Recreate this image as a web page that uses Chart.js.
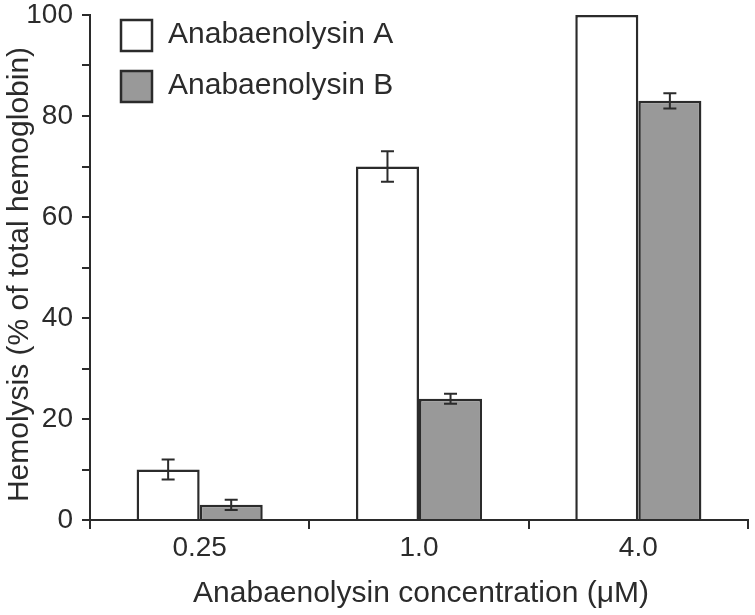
<!DOCTYPE html>
<html>
<head>
<meta charset="utf-8">
<title>Hemolysis by anabaenolysins</title>
<script src="https://cdn.jsdelivr.net/npm/chart.js@4.4.1/dist/chart.umd.min.js"></script>
<style>
  html, body { margin: 0; padding: 0; background: #fff; }
  #chart { display: block; }
</style>
</head>
<body>
<canvas id="chart" width="755" height="615"></canvas>
<script>
var concentrations = ['0.25', '1.0', '4.0'];
var seriesNames = ['Anabaenolysin A', 'Anabaenolysin B'];
var valuesA = [10, 70, 100];
var valuesB = [3, 24, 83];
var errorsA = [2, 3, 0];
var errorsB = [1, 1, 1.5];
var yLabelled = [0, 20, 40, 60, 80, 100];
var xTitle = 'Anabaenolysin concentration (\u03bcM)';
var yTitle = 'Hemolysis (% of total hemoglobin)';

var ink = '#2b2b2b';
var fontFamily = '"Liberation Sans", Arial, Helvetica, sans-serif';

// error bars, drawn on top of the bars through the y scale
var errorBars = {
  id: 'errorBars',
  afterDatasetsDraw: function(chart) {
    var ctx = chart.ctx;
    var y = chart.scales.y;
    ctx.save();
    ctx.strokeStyle = ink;
    ctx.lineWidth = 2;
    chart.data.datasets.forEach(function(ds, i) {
      var meta = chart.getDatasetMeta(i);
      meta.data.forEach(function(bar, j) {
        var err = ds.errors[j];
        if (!err) return;
        var top = y.getPixelForValue(ds.data[j] + err);
        var bottom = y.getPixelForValue(ds.data[j] - err);
        ctx.beginPath();
        ctx.moveTo(bar.x, top);
        ctx.lineTo(bar.x, bottom);
        ctx.moveTo(bar.x - 6.5, top);
        ctx.lineTo(bar.x + 6.5, top);
        ctx.moveTo(bar.x - 6.5, bottom);
        ctx.lineTo(bar.x + 6.5, bottom);
        ctx.stroke();
      });
    });
    ctx.restore();
  }
};

// legend sits inside the plot, top left
var boxLegend = {
  id: 'boxLegend',
  afterDraw: function(chart) {
    var ctx = chart.ctx;
    var area = chart.chartArea;
    var x = area.left + 31;
    var y = area.top + 5;
    ctx.save();
    ctx.font = '30px ' + fontFamily;
    ctx.textBaseline = 'alphabetic';
    chart.data.datasets.forEach(function(ds, i) {
      var top = y + i * 51;
      ctx.fillStyle = ds.backgroundColor;
      ctx.fillRect(x, top, 31, 31);
      ctx.lineWidth = 2.5;
      ctx.strokeStyle = ds.borderColor;
      ctx.strokeRect(x, top, 31, 31);
      ctx.fillStyle = ink;
      ctx.fillText(ds.label, x + 47, top + 23);
    });
    ctx.restore();
  }
};

// axis titles, placed a little off-centre like the original figure
var axisTitles = {
  id: 'axisTitles',
  afterDraw: function(chart) {
    var ctx = chart.ctx;
    var area = chart.chartArea;
    ctx.save();
    ctx.font = '30px ' + fontFamily;
    ctx.fillStyle = ink;
    ctx.textAlign = 'center';
    ctx.textBaseline = 'alphabetic';
    ctx.fillText(xTitle, (area.left + area.right) / 2 + 2, chart.height - 13);
    ctx.translate(28, (area.top + area.bottom) / 2 + 7);
    ctx.rotate(-Math.PI / 2);
    ctx.fillText(yTitle, 0, 0);
    ctx.restore();
  }
};

document.addEventListener('DOMContentLoaded', function() {
  var ctx = document.getElementById('chart').getContext('2d');

  new Chart(ctx, {
    type: 'bar',
    data: {
      labels: concentrations,
      datasets: [{
        label: seriesNames[0],
        data: valuesA,
        errors: errorsA,
        backgroundColor: '#ffffff',
        borderColor: ink,
        borderWidth: 2.5,
        borderSkipped: 'bottom'
      }, {
        label: seriesNames[1],
        data: valuesB,
        errors: errorsB,
        backgroundColor: '#999999',
        borderColor: ink,
        borderWidth: 2.5,
        borderSkipped: 'bottom'
      }]
    },
    options: {
      responsive: false,
      animation: false,
      layout: {
        padding: { top: 0, right: 7, bottom: 0, left: 0 }
      },
      datasets: {
        bar: { categoryPercentage: 0.575, barPercentage: 1 }
      },
      plugins: {
        legend: { display: false },
        tooltip: { enabled: false }
      },
      scales: {
        x: {
          grid: {
            offset: true,
            drawOnChartArea: false,
            tickLength: 9,
            color: ink,
            lineWidth: 2
          },
          border: { display: true, color: ink, width: 2 },
          ticks: {
            color: ink,
            padding: 5,
            font: { family: fontFamily, size: 28, lineHeight: 1 }
          },
          afterFit: function(scale) { scale.height = 95; }
        },
        y: {
          min: 0,
          max: 100,
          ticks: {
            stepSize: 10,
            color: ink,
            padding: 9,
            font: { family: fontFamily, size: 28, lineHeight: 1 },
            callback: function(value) {
              return yLabelled.indexOf(value) >= 0 ? value : '';
            }
          },
          grid: {
            drawOnChartArea: false,
            tickLength: 8,
            color: ink,
            lineWidth: 2
          },
          border: { display: true, color: ink, width: 2 },
          afterFit: function(scale) {
            scale.width = 90;
            scale.paddingTop = 15;
          }
        }
      }
    },
    plugins: [errorBars, boxLegend, axisTitles]
  });
});
</script>
</body>
</html>
